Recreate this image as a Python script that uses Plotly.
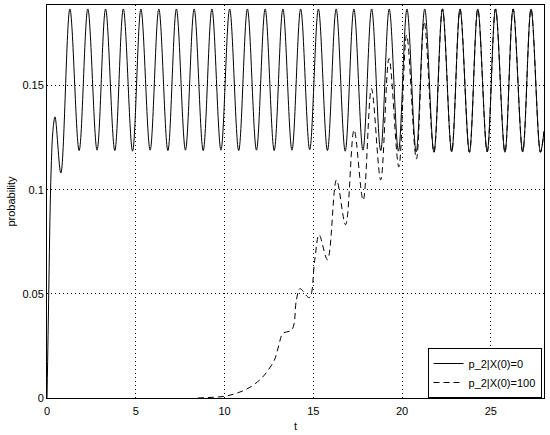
import plotly.graph_objects as go

# solid curve: p_2 | X(0)=0  (key points: start, peaks and troughs)
t_solid = [0.0, 0.06, 0.12, 0.18, 0.25, 0.33, 0.45, 0.78, 1.29, 1.81, 2.30, 2.82, 3.30, 3.82,
           4.30, 4.82, 5.29, 5.81, 6.30, 6.81, 7.29, 7.80, 8.29, 8.80, 9.29, 9.80, 10.29,
           10.80, 11.29, 11.80, 12.29, 12.80, 13.29, 13.80, 14.29, 14.80, 15.29, 15.80,
           16.29, 16.80, 17.29, 17.80, 18.29, 18.80, 19.28, 19.80, 20.28, 20.80, 21.28,
           21.80, 22.28, 22.80, 23.27, 23.80, 24.27, 24.80, 25.27, 25.80, 26.26, 26.80,
           27.27, 27.80, 28.0]
p_solid = [0.0, 0.030, 0.062, 0.092, 0.114, 0.128, 0.135, 0.108, 0.1868, 0.1188, 0.1868,
           0.1190, 0.1868, 0.1188, 0.1868, 0.1185, 0.1868, 0.1190, 0.1868, 0.1188, 0.1868,
           0.1190, 0.1868, 0.1188, 0.1868, 0.1190, 0.1868, 0.1188, 0.1868, 0.1190, 0.1868,
           0.1188, 0.1868, 0.1190, 0.1868, 0.1192, 0.1868, 0.1188, 0.1868, 0.1185, 0.1868,
           0.1190, 0.1868, 0.1188, 0.1868, 0.1185, 0.1868, 0.1182, 0.1868, 0.1180, 0.1868,
           0.1182, 0.1868, 0.1180, 0.1868, 0.1182, 0.1868, 0.1180, 0.1868, 0.1182, 0.1868,
           0.1180, 0.128]

# dashed curve: p_2 | X(0)=100
t_dash = [8.5, 9.0, 9.5, 10.0, 10.5, 11.0, 11.5, 12.0, 12.29, 12.80, 13.05, 13.29, 13.80,
          14.05, 14.25, 14.78, 15.08, 15.33, 15.80, 16.31, 16.82, 17.30, 17.81, 18.28,
          18.80, 19.27, 19.82, 20.26, 20.81, 21.25, 21.80, 22.28, 22.80, 23.27, 23.80,
          24.27, 24.80, 25.27, 25.80, 26.26, 26.80, 27.27, 27.80, 28.0]
p_dash = [0.0, 0.0002, 0.0004, 0.0008, 0.0018, 0.0033, 0.0055, 0.0088, 0.0115, 0.018,
          0.025, 0.031, 0.0328, 0.047, 0.0525, 0.0482, 0.066, 0.0784, 0.0664, 0.1047,
          0.0832, 0.1287, 0.0950, 0.1486, 0.1047, 0.1630, 0.1110, 0.1743, 0.1147, 0.1807,
          0.1180, 0.1868, 0.1182, 0.1868, 0.1180, 0.1868, 0.1182, 0.1868, 0.1180, 0.1868,
          0.1182, 0.1868, 0.1180, 0.128]

x_ticks = [0, 5, 10, 15, 20, 25]
y_ticks = [0, 0.05, 0.1, 0.15]
y_tick_text = ["0", "0.05", "0.1", "0.15"]

FONT = "Liberation Sans"

fig = go.Figure()
fig.add_trace(go.Scatter(x=t_solid, y=p_solid, mode="lines", name="p_2|X(0)=0",
                         line=dict(color="black", width=1, shape="spline", smoothing=1.0)))
fig.add_trace(go.Scatter(x=t_dash, y=p_dash, mode="lines", name="p_2|X(0)=100",
                         line=dict(color="black", width=1, dash="6px,4px",
                                   shape="spline", smoothing=1.0)))

axis_common = dict(showline=True, linecolor="black", linewidth=1, mirror=True,
                   showgrid=True, gridcolor="black", gridwidth=1, griddash="1px,3px",
                   zeroline=False, automargin=False,
                   tickfont=dict(family=FONT, size=11, color="black"))

fig.update_xaxes(range=[0, 28], tickvals=x_ticks, ticktext=[str(v) for v in x_ticks],
                 ticks="outside", ticklen=3, tickcolor="rgba(0,0,0,0)",
                 title=dict(text="t", font=dict(family=FONT, size=11, color="black"), standoff=6),
                 **axis_common)
fig.update_yaxes(range=[0, 0.1887], tickvals=y_ticks, ticktext=y_tick_text, ticks="",
                 title=dict(text="probability", font=dict(family=FONT, size=11, color="black"), standoff=4),
                 **axis_common)

fig.update_layout(
    width=550, height=435,
    margin=dict(l=47, r=6, t=5, b=37),
    paper_bgcolor="white", plot_bgcolor="white",
    font=dict(family=FONT, size=11, color="black"),
    legend=dict(x=0.995, y=0.0, xanchor="right", yanchor="bottom",
                bgcolor="white", bordercolor="black", borderwidth=1,
                font=dict(family=FONT, size=11, color="black"),
                tracegroupgap=0, itemwidth=30),
    showlegend=True,
)

fig.write_html("out.html", config={"displayModeBar": False},
               post_script="document.body.style.margin='0';document.body.style.overflow='hidden';")
